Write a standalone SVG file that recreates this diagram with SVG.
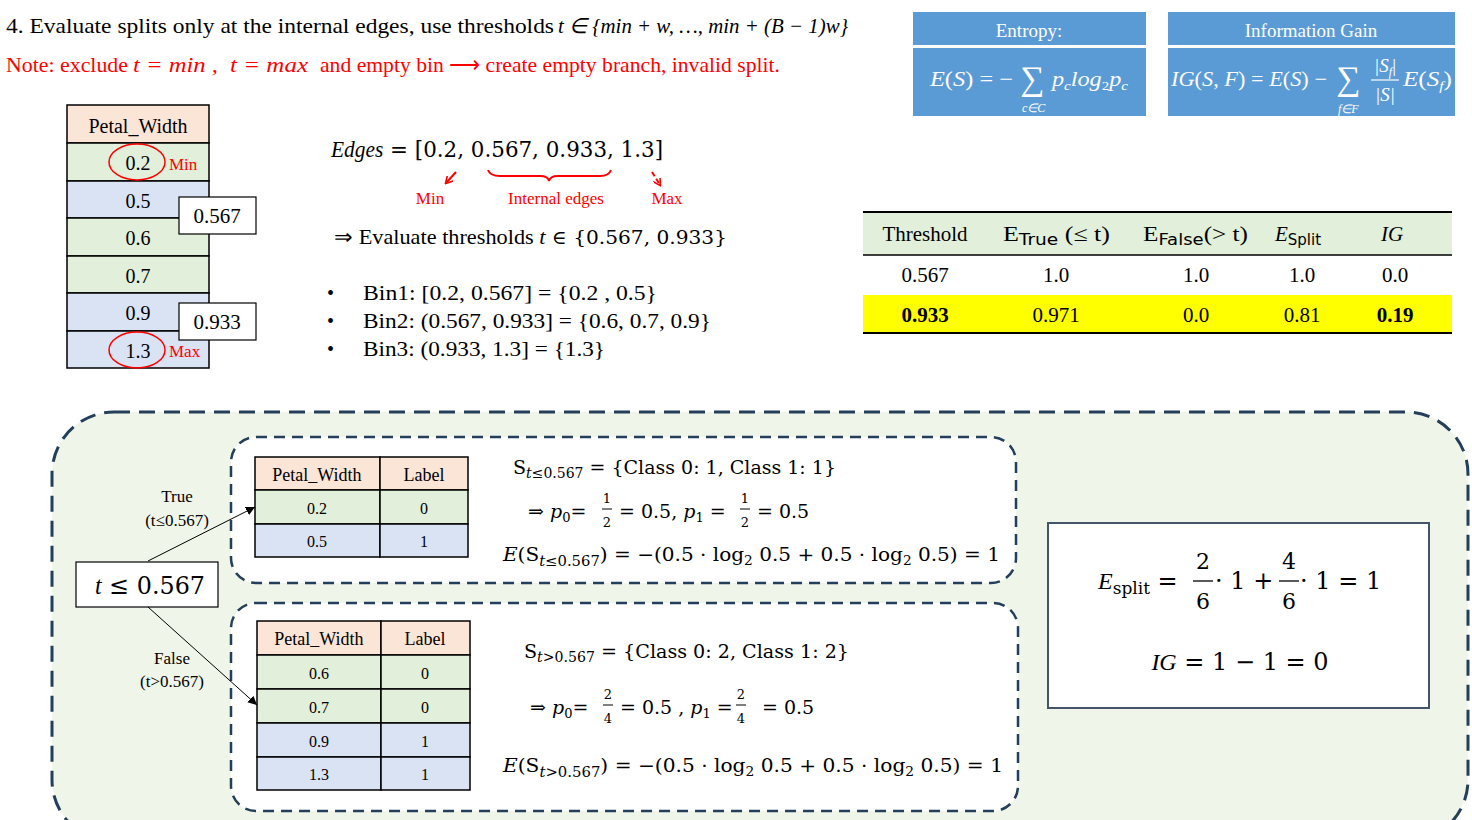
<svg xmlns="http://www.w3.org/2000/svg" width="1472" height="820" viewBox="0 0 1472 820">
<style>
.t{font-family:"Liberation Serif",serif;fill:#000}
.m{font-family:"DejaVu Serif","Liberation Serif",serif;fill:#000}
.i{font-style:italic}
.red{fill:#ff0000}
.w{fill:#fff}
.c{text-anchor:middle}
.cell{stroke:#000;stroke-width:1.5}
.hd{fill:#fbe5d6}
.gr{fill:#e2efda}
.bl{fill:#dae3f3}
.dash{fill:#fff;stroke:#243f5a;stroke-width:2.5;stroke-dasharray:11 7}
</style>
<defs>
<marker id="ah" viewBox="0 0 10 10" refX="10" refY="5" markerWidth="9" markerHeight="9" orient="auto" markerUnits="userSpaceOnUse"><path d="M0,0 L10,5 L0,10 z" fill="#000"/></marker>
<marker id="rh" viewBox="0 0 10 10" refX="8" refY="5" markerWidth="8" markerHeight="8" orient="auto" markerUnits="userSpaceOnUse"><path d="M0,0 L9,5 L0,10" fill="none" stroke="#ff0000" stroke-width="2"/></marker>
</defs>
<rect width="1472" height="820" fill="#fff"/>

<g id="title">
<text class="t" x="6" y="33" font-size="21" textLength="548" lengthAdjust="spacingAndGlyphs">4. Evaluate splits only at the internal edges, use thresholds</text>
<text class="t i" x="558" y="33" font-size="21" textLength="290" lengthAdjust="spacingAndGlyphs">t  ∈ {min + w, …, min + (B − 1)w}</text>
<text class="t red" x="6" y="72" font-size="21" textLength="122" lengthAdjust="spacingAndGlyphs">Note: exclude</text>
<text class="t red i" x="133" y="72" font-size="21" textLength="85" lengthAdjust="spacingAndGlyphs">t = min ,</text>
<text class="t red i" x="230" y="72" font-size="21" textLength="78" lengthAdjust="spacingAndGlyphs">t = max</text>
<text class="t red" x="320" y="72" font-size="21" textLength="460" lengthAdjust="spacingAndGlyphs">and empty bin ⟶ create empty branch, invalid split.</text>
</g>

<g id="entropy">
<rect x="913" y="12" width="233" height="33" fill="#5b9bd5"/>
<rect x="913" y="48" width="233" height="68" fill="#5b9bd5"/>
<text class="t w c" x="1029" y="37" font-size="19">Entropy:</text>
<text class="t w i" x="930" y="86" font-size="21" textLength="83" lengthAdjust="spacingAndGlyphs">E<tspan font-style="normal">(</tspan>S<tspan font-style="normal">) = −</tspan></text>
<text class="t w" x="1020" y="90" font-size="34">∑</text>
<text class="t w i" x="1022" y="112" font-size="12">c∈C</text>
<text class="t w i" x="1052" y="86" font-size="21" textLength="76" lengthAdjust="spacingAndGlyphs">p<tspan font-size="13" dy="4">c</tspan><tspan dy="-4">log</tspan><tspan font-size="13" font-style="normal" dy="4">2</tspan><tspan dy="-4">p</tspan><tspan font-size="13" dy="4">c</tspan></text>
</g>

<g id="infogain">
<rect x="1168" y="12" width="287" height="33" fill="#5b9bd5"/>
<rect x="1168" y="48" width="287" height="68" fill="#5b9bd5"/>
<text class="t w c" x="1311" y="37" font-size="19">Information Gain</text>
<text class="t w i" x="1171" y="86" font-size="21" textLength="156" lengthAdjust="spacingAndGlyphs">IG<tspan font-style="normal">(</tspan>S<tspan font-style="normal">, </tspan>F<tspan font-style="normal">) = </tspan>E<tspan font-style="normal">(</tspan>S<tspan font-style="normal">) −</tspan></text>
<text class="t w" x="1336" y="90" font-size="34">∑</text>
<text class="t w i" x="1338" y="113" font-size="12">f∈F</text>
<text class="t w i c" x="1385" y="72" font-size="19">|S<tspan font-size="12" dy="4">f</tspan><tspan dy="-4" font-style="normal">|</tspan></text>
<line x1="1371" y1="80" x2="1399" y2="80" stroke="#fff" stroke-width="1.2"/>
<text class="t w i c" x="1385" y="101" font-size="19">|S|</text>
<text class="t w i" x="1403" y="86" font-size="21" textLength="49" lengthAdjust="spacingAndGlyphs">E<tspan font-style="normal">(</tspan>S<tspan font-size="13" dy="4">f</tspan><tspan font-style="normal" dy="-4">)</tspan></text>
</g>

<g id="petal-table">
<rect class="cell hd" x="67" y="105" width="142" height="38"/>
<rect class="cell gr" x="67" y="143" width="142" height="38"/>
<rect class="cell bl" x="67" y="181" width="142" height="37"/>
<rect class="cell gr" x="67" y="218" width="142" height="38"/>
<rect class="cell gr" x="67" y="256" width="142" height="37"/>
<rect class="cell bl" x="67" y="293" width="142" height="38"/>
<rect class="cell bl" x="67" y="331" width="142" height="37"/>
<text class="t c" x="138" y="133" font-size="20">Petal_Width</text>
<text class="t c" x="138" y="170" font-size="20">0.2</text>
<text class="t c" x="138" y="208" font-size="20">0.5</text>
<text class="t c" x="138" y="245" font-size="20">0.6</text>
<text class="t c" x="138" y="283" font-size="20">0.7</text>
<text class="t c" x="138" y="320" font-size="20">0.9</text>
<text class="t c" x="138" y="358" font-size="20">1.3</text>
<ellipse cx="137" cy="162" rx="28" ry="18" fill="none" stroke="#ff0000" stroke-width="1.5"/>
<ellipse cx="137" cy="350" rx="28" ry="18" fill="none" stroke="#ff0000" stroke-width="1.5"/>
<text class="t red" x="169" y="170" font-size="17">Min</text>
<text class="t red" x="169" y="357" font-size="17">Max</text>
</g>

<g id="edge-0567">
<rect x="179" y="197" width="77" height="37" fill="#fff" stroke="#000" stroke-width="1.2"/>
<text class="t c" x="217" y="223" font-size="21">0.567</text>
</g>
<g id="edge-0933">
<rect x="179" y="303" width="77" height="37" fill="#fff" stroke="#000" stroke-width="1.2"/>
<text class="t c" x="217" y="329" font-size="21">0.933</text>
</g>

<g id="edges">
<text class="m" x="331" y="157" font-size="23" textLength="332" lengthAdjust="spacingAndGlyphs"><tspan font-style="italic" font-family="Liberation Serif">Edges</tspan> = [0.2, 0.567, 0.933, 1.3]</text>
<path d="M488,170 Q490,176 500,176 L540,176 Q548,176 549,181 Q550,176 558,176 L600,176 Q609,176 611,170" fill="none" stroke="#ff0000" stroke-width="2"/>
<path d="M456,172 L446,183" fill="none" stroke="#ff0000" stroke-width="2" marker-end="url(#rh)"/>
<path d="M652,172 L660,185" fill="none" stroke="#ff0000" stroke-width="2" stroke-dasharray="5 3" marker-end="url(#rh)"/>
<text class="t red c" x="430" y="204" font-size="17">Min</text>
<text class="t red c" x="556" y="204" font-size="17">Internal edges</text>
<text class="t red c" x="667" y="204" font-size="17">Max</text>
<text class="t" x="334" y="244" font-size="21" textLength="393" lengthAdjust="spacingAndGlyphs">⇒ Evaluate thresholds <tspan font-style="italic">t</tspan><tspan font-family="DejaVu Serif" font-size="19"> ∈ {0.567, 0.933}</tspan></text>
<text class="t" x="327" y="300" font-size="20">•</text>
<text class="t" x="327" y="328" font-size="20">•</text>
<text class="t" x="327" y="356" font-size="20">•</text>
<text class="t" x="363" y="300" font-size="21" textLength="294" lengthAdjust="spacingAndGlyphs">Bin1: [0.2, 0.567] =  {0.2 , 0.5}</text>
<text class="t" x="363" y="328" font-size="21" textLength="348" lengthAdjust="spacingAndGlyphs">Bin2: (0.567, 0.933] = {0.6, 0.7, 0.9}</text>
<text class="t" x="363" y="356" font-size="21" textLength="242" lengthAdjust="spacingAndGlyphs">Bin3: (0.933, 1.3] = {1.3}</text>
</g>

<g id="threshold-table">
<rect x="863" y="212" width="589" height="43" fill="#e2efda"/>
<rect x="863" y="295" width="589" height="38" fill="#ffff00"/>
<line x1="863" y1="212" x2="1452" y2="212" stroke="#000" stroke-width="2"/>
<line x1="863" y1="255" x2="1452" y2="255" stroke="#000" stroke-width="1.5"/>
<line x1="863" y1="333" x2="1452" y2="333" stroke="#000" stroke-width="2"/>
<text class="t c" x="925" y="241" font-size="21">Threshold</text>
<text class="t" x="1003" y="241" font-size="21" textLength="107" lengthAdjust="spacingAndGlyphs">E<tspan font-family="DejaVu Sans" font-size="15" dy="4">True</tspan><tspan dy="-4"> (≤ t)</tspan></text>
<text class="t" x="1143" y="241" font-size="21" textLength="105" lengthAdjust="spacingAndGlyphs">E<tspan font-family="DejaVu Sans" font-size="15" dy="4">False</tspan><tspan dy="-4">(&gt; t)</tspan></text>
<text class="t" x="1275" y="241" font-size="21"><tspan font-style="italic">E</tspan><tspan font-family="DejaVu Sans" font-size="15" dy="4">Split</tspan></text>
<text class="t i c" x="1392" y="241" font-size="21">IG</text>
<text class="t c" x="925" y="282" font-size="21">0.567</text>
<text class="t c" x="1056" y="282" font-size="21">1.0</text>
<text class="t c" x="1196" y="282" font-size="21">1.0</text>
<text class="t c" x="1302" y="282" font-size="21">1.0</text>
<text class="t c" x="1395" y="282" font-size="21">0.0</text>
<text class="t c" x="925" y="322" font-size="21" font-weight="bold">0.933</text>
<text class="t c" x="1056" y="322" font-size="21">0.971</text>
<text class="t c" x="1196" y="322" font-size="21">0.0</text>
<text class="t c" x="1302" y="322" font-size="21">0.81</text>
<text class="t c" x="1395" y="322" font-size="21" font-weight="bold">0.19</text>
</g>

<g id="split-panel">
<rect x="52" y="412" width="1416" height="430" rx="62" fill="#f0f5ea" stroke="#243f5a" stroke-width="3" stroke-dasharray="16 9"/>
</g>

<g id="true-branch">
<rect class="dash" x="231" y="437" width="785" height="146" rx="25"/>
<rect class="cell hd" x="255" y="457" width="125" height="33"/>
<rect class="cell hd" x="380" y="457" width="88" height="33"/>
<rect class="cell gr" x="255" y="490" width="125" height="34"/>
<rect class="cell gr" x="380" y="490" width="88" height="34"/>
<rect class="cell bl" x="255" y="524" width="125" height="33"/>
<rect class="cell bl" x="380" y="524" width="88" height="33"/>
<text class="t c" x="317" y="481" font-size="18">Petal_Width</text>
<text class="t c" x="424" y="481" font-size="18">Label</text>
<text class="t c" x="317" y="514" font-size="16">0.2</text>
<text class="t c" x="424" y="514" font-size="16">0</text>
<text class="t c" x="317" y="547" font-size="16">0.5</text>
<text class="t c" x="424" y="547" font-size="16">1</text>
<text class="m" x="513" y="474" font-size="19" textLength="323" lengthAdjust="spacingAndGlyphs">S<tspan font-size="14" dy="4" font-style="italic">t</tspan><tspan font-size="14">≤0.567</tspan><tspan dy="-4"> = {Class 0: 1, Class 1:  1}</tspan></text>
<text class="m" x="528" y="518" font-size="19">⇒ <tspan font-style="italic">p</tspan><tspan font-size="13" dy="4">0</tspan><tspan dy="-4">=</tspan></text>
<text class="m c" x="607" y="503" font-size="13">1</text>
<line x1="602" y1="509" x2="612" y2="509" stroke="#000" stroke-width="1"/>
<text class="m c" x="607" y="527" font-size="13">2</text>
<text class="m" x="619" y="518" font-size="19">= 0.5, <tspan font-style="italic">p</tspan><tspan font-size="13" dy="4">1</tspan><tspan dy="-4"> =</tspan></text>
<text class="m c" x="745" y="503" font-size="13">1</text>
<line x1="740" y1="509" x2="750" y2="509" stroke="#000" stroke-width="1"/>
<text class="m c" x="745" y="527" font-size="13">2</text>
<text class="m" x="757" y="518" font-size="19">= 0.5</text>
<text class="m" x="503" y="561" font-size="19" textLength="497" lengthAdjust="spacingAndGlyphs"><tspan font-style="italic">E</tspan>(S<tspan font-size="14" dy="5" font-style="italic">t</tspan><tspan font-size="14">≤0.567</tspan><tspan dy="-5">) = −(0.5 · log</tspan><tspan font-size="13" dy="4">2</tspan><tspan dy="-4"> 0.5 + 0.5 · log</tspan><tspan font-size="13" dy="4">2</tspan><tspan dy="-4"> 0.5) = 1</tspan></text>
</g>

<g id="false-branch">
<rect class="dash" x="231" y="603" width="787" height="208" rx="25"/>
<rect class="cell hd" x="257" y="621" width="124" height="34"/>
<rect class="cell hd" x="381" y="621" width="89" height="34"/>
<rect class="cell gr" x="257" y="655" width="124" height="34"/>
<rect class="cell gr" x="381" y="655" width="89" height="34"/>
<rect class="cell gr" x="257" y="689" width="124" height="34"/>
<rect class="cell gr" x="381" y="689" width="89" height="34"/>
<rect class="cell bl" x="257" y="723" width="124" height="34"/>
<rect class="cell bl" x="381" y="723" width="89" height="34"/>
<rect class="cell bl" x="257" y="757" width="124" height="33"/>
<rect class="cell bl" x="381" y="757" width="89" height="33"/>
<text class="t c" x="319" y="645" font-size="18">Petal_Width</text>
<text class="t c" x="425" y="645" font-size="18">Label</text>
<text class="t c" x="319" y="679" font-size="16">0.6</text>
<text class="t c" x="425" y="679" font-size="16">0</text>
<text class="t c" x="319" y="713" font-size="16">0.7</text>
<text class="t c" x="425" y="713" font-size="16">0</text>
<text class="t c" x="319" y="747" font-size="16">0.9</text>
<text class="t c" x="425" y="747" font-size="16">1</text>
<text class="t c" x="319" y="780" font-size="16">1.3</text>
<text class="t c" x="425" y="780" font-size="16">1</text>
<text class="m" x="524" y="658" font-size="19" textLength="325" lengthAdjust="spacingAndGlyphs">S<tspan font-size="14" dy="4" font-style="italic">t</tspan><tspan font-size="14">&gt;0.567</tspan><tspan dy="-4"> = {Class 0: 2, Class 1:  2}</tspan></text>
<text class="m" x="530" y="714" font-size="19">⇒ <tspan font-style="italic">p</tspan><tspan font-size="13" dy="4">0</tspan><tspan dy="-4">=</tspan></text>
<text class="m c" x="608" y="699" font-size="13">2</text>
<line x1="603" y1="705" x2="613" y2="705" stroke="#000" stroke-width="1"/>
<text class="m c" x="608" y="723" font-size="13">4</text>
<text class="m" x="620" y="714" font-size="19">= 0.5 , <tspan font-style="italic">p</tspan><tspan font-size="13" dy="4">1</tspan><tspan dy="-4"> =</tspan></text>
<text class="m c" x="741" y="699" font-size="13">2</text>
<line x1="736" y1="705" x2="746" y2="705" stroke="#000" stroke-width="1"/>
<text class="m c" x="741" y="723" font-size="13">4</text>
<text class="m" x="762" y="714" font-size="19">=  0.5</text>
<text class="m" x="503" y="772" font-size="19" textLength="500" lengthAdjust="spacingAndGlyphs"><tspan font-style="italic">E</tspan>(S<tspan font-size="14" dy="5" font-style="italic">t</tspan><tspan font-size="14">&gt;0.567</tspan><tspan dy="-5">) = −(0.5 · log</tspan><tspan font-size="13" dy="4">2</tspan><tspan dy="-4"> 0.5 + 0.5 · log</tspan><tspan font-size="13" dy="4">2</tspan><tspan dy="-4"> 0.5) = 1</tspan></text>
</g>

<g id="decision">
<rect x="76" y="562" width="142" height="45" fill="#fff" stroke="#000" stroke-width="1.2"/>
<text class="m c" x="150" y="594" font-size="25" textLength="110" lengthAdjust="spacingAndGlyphs"><tspan font-style="italic" font-family="Liberation Serif">t</tspan> ≤ 0.567</text>
</g>

<g id="connectors">
<line x1="148" y1="561" x2="255" y2="507" stroke="#000" stroke-width="1" marker-end="url(#ah)"/>
<line x1="148" y1="607" x2="257" y2="705" stroke="#000" stroke-width="1" marker-end="url(#ah)"/>
<text class="t c" x="177" y="502" font-size="17">True</text>
<text class="t c" x="177" y="526" font-size="17">(t≤0.567)</text>
<text class="t c" x="172" y="664" font-size="17">False</text>
<text class="t c" x="172" y="687" font-size="17">(t&gt;0.567)</text>
</g>

<g id="result">
<rect x="1048" y="523" width="381" height="185" fill="#fff" stroke="#44546a" stroke-width="2"/>
<text class="m" x="1098" y="589" font-size="24"><tspan font-style="italic" font-family="Liberation Serif">E</tspan><tspan font-size="17" dy="5">split</tspan><tspan dy="-5"> =</tspan></text>
<text class="m c" x="1203" y="569" font-size="22">2</text>
<line x1="1193" y1="581" x2="1213" y2="581" stroke="#000" stroke-width="1.3"/>
<text class="m c" x="1203" y="609" font-size="22">6</text>
<text class="m" x="1215" y="589" font-size="24">· 1 +</text>
<text class="m c" x="1289" y="569" font-size="22">4</text>
<line x1="1279" y1="581" x2="1299" y2="581" stroke="#000" stroke-width="1.3"/>
<text class="m c" x="1289" y="609" font-size="22">6</text>
<text class="m" x="1300" y="589" font-size="24">· 1 = 1</text>
<text class="m c" x="1240" y="670" font-size="24"><tspan font-style="italic" font-family="Liberation Serif">IG</tspan> = 1 − 1 = 0</text>
</g>
</svg>
